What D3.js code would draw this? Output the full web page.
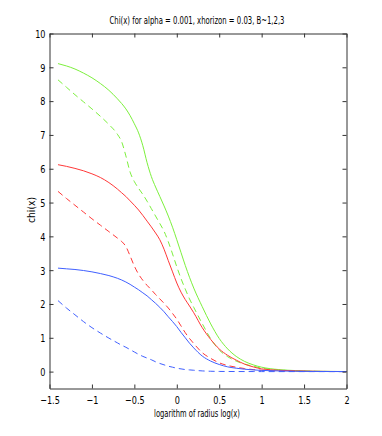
<!DOCTYPE html>
<html><head><meta charset="utf-8">
<script src="https://cdn.jsdelivr.net/npm/d3@7/dist/d3.min.js"></script>
<style>body{margin:0;background:#fff}svg{display:block}</style>
</head><body>
<svg id="c" width="382" height="436"></svg>
<script>
const xs = [-1.4,-1.3,-1.2,-1.1,-1.0,-0.9,-0.8,-0.7,-0.65,-0.6,-0.55,-0.5,-0.45,-0.4,-0.35,-0.3,-0.25,-0.2,-0.15,-0.1,-0.05,0,0.05,0.1,0.15,0.2,0.3,0.4,0.5,0.6,0.7,0.8,0.9,1.0,1.2,1.4,1.6,1.8,2.0];
const greenSolid = [9.11,9.04,8.95,8.83,8.69,8.52,8.32,8.07,7.93,7.77,7.57,7.33,7.06,6.68,6.18,5.77,5.46,5.18,4.90,4.60,4.27,3.90,3.52,3.14,2.79,2.47,1.92,1.41,0.98,0.67,0.45,0.30,0.20,0.13,0.06,0.03,0.01,0.005,0.002];
const greenDashed = [8.63,8.41,8.19,7.98,7.77,7.55,7.31,7.02,6.80,6.38,5.90,5.62,5.42,5.24,5.04,4.82,4.60,4.38,4.15,3.84,3.48,3.10,2.75,2.44,2.15,1.90,1.42,0.97,0.64,0.44,0.31,0.22,0.16,0.10,0.05,0.02,0.01,0.004,0.001];
const redSolid = [6.12,6.07,6.01,5.94,5.85,5.74,5.59,5.40,5.29,5.18,5.05,4.92,4.78,4.62,4.45,4.28,4.10,3.90,3.62,3.28,2.95,2.62,2.35,2.13,1.94,1.74,1.30,0.95,0.67,0.48,0.34,0.22,0.14,0.08,0.04,0.02,0.01,0.004,0.001];
const redDashed = [5.33,5.12,4.92,4.72,4.52,4.33,4.14,3.95,3.85,3.70,3.42,3.12,2.88,2.70,2.55,2.42,2.28,2.15,2.02,1.88,1.72,1.55,1.35,1.15,0.98,0.83,0.56,0.39,0.26,0.18,0.13,0.09,0.06,0.04,0.02,0.01,0.005,0.002,0.001];
const blueSolid = [3.06,3.04,3.02,2.99,2.95,2.90,2.84,2.76,2.71,2.65,2.58,2.50,2.42,2.33,2.24,2.13,2.02,1.90,1.77,1.62,1.48,1.33,1.16,1.00,0.84,0.70,0.46,0.31,0.21,0.14,0.10,0.07,0.05,0.035,0.02,0.01,0.005,0.002,0.001];
const blueDashed = [2.10,1.88,1.68,1.48,1.30,1.14,0.99,0.85,0.78,0.72,0.65,0.58,0.51,0.45,0.40,0.35,0.29,0.24,0.20,0.16,0.13,0.10,0.08,0.06,0.05,0.04,0.02,0.01,0.005,0.003,0.002,0.001,0.001,0,0,0,0,0,0];
const xTicks = [-1.5,-1,-0.5,0,0.5,1,1.5,2];
const yTicks = [0,1,2,3,4,5,6,7,8,9,10];
const titleText = "Chi(x) for alpha = 0.001, xhorizon = 0.03, B~1,2,3";
const xLabel = "logarithm of radius log(x)";
const yLabel = "chi(x)";

const series = [
  {v: greenSolid, c: "#7cf03c", d: null},
  {v: greenDashed, c: "#7cf03c", d: "6,4"},
  {v: redSolid, c: "#ff3838", d: null},
  {v: redDashed, c: "#ff3838", d: "6,4"},
  {v: blueSolid, c: "#4060ff", d: null},
  {v: blueDashed, c: "#4060ff", d: "6,4"}
];

const L = 49.5, R = 346.5, T = 33.5, B = 388.5;
const x = d3.scaleLinear().domain([-1.5, 2]).range([L, R]);
const y = d3.scaleLinear().domain([-0.5, 10]).range([B, T]);
const svg = d3.select("#c");
const font = "'Liberation Sans Narrow','DejaVu Sans Condensed',Arial,sans-serif";
const fmt = v => (v < 0 ? "\u2212" : "") + Math.abs(v);
const SX = 0.82;

const line = d3.line().x((d,i) => x(xs[i])).y(d => y(d)).curve(d3.curveMonotoneX);
series.forEach(s => {
  svg.append("path").attr("d", line(s.v)).attr("fill", "none")
    .attr("stroke", s.c).attr("stroke-width", 1)
    .attr("stroke-dasharray", s.d);
});

const axB = svg.append("g").attr("transform", `translate(0,${B})`)
  .call(d3.axisBottom(x).tickValues(xTicks).tickSizeInner(-4).tickSizeOuter(0).tickFormat(fmt));
const axT = svg.append("g").attr("transform", `translate(0,${T})`)
  .call(d3.axisTop(x).tickValues(xTicks).tickSizeInner(-4).tickSizeOuter(0).tickFormat(""));
const axL = svg.append("g").attr("transform", `translate(${L},0)`)
  .call(d3.axisLeft(y).tickValues(yTicks).tickSizeInner(-4).tickSizeOuter(0).tickFormat(fmt));
const axR = svg.append("g").attr("transform", `translate(${R},0)`)
  .call(d3.axisRight(y).tickValues(yTicks).tickSizeInner(-4).tickSizeOuter(0).tickFormat(""));
[axB, axT, axL, axR].forEach(a => {
  a.select(".domain").attr("stroke", "#333");
  a.selectAll(".tick line").attr("stroke", "#333");
});
axB.selectAll(".tick text").attr("font-family", font).attr("font-size", 11).attr("fill", "#000")
  .attr("y", 0).attr("dy", 0)
  .attr("transform", `translate(0,15) scale(${SX},1)`);
axL.selectAll(".tick text").attr("font-family", font).attr("font-size", 11).attr("fill", "#000")
  .attr("x", 0).attr("dy", "0.35em")
  .attr("transform", `translate(-4,0) scale(${SX},1)`);

svg.append("text").attr("x", 197).attr("y", 24).attr("text-anchor", "middle")
  .attr("font-family", font).attr("font-size", 11)
  .attr("textLength", 175).attr("lengthAdjust", "spacingAndGlyphs").text(titleText);
svg.append("text").attr("x", 197).attr("y", 417).attr("text-anchor", "middle")
  .attr("font-family", font).attr("font-size", 11)
  .attr("textLength", 86).attr("lengthAdjust", "spacingAndGlyphs").text(xLabel);
svg.append("text").attr("transform", `translate(35,210) rotate(-90)`).attr("text-anchor", "middle")
  .attr("font-family", font).attr("font-size", 11)
  .attr("textLength", 26).attr("lengthAdjust", "spacingAndGlyphs").text(yLabel);
</script>
</body></html>
